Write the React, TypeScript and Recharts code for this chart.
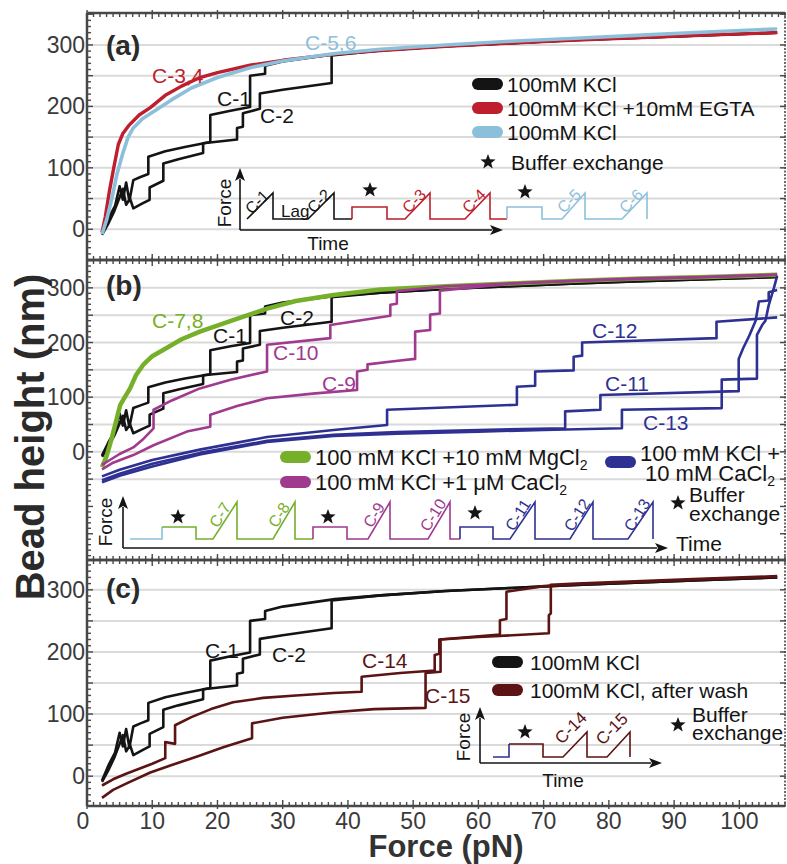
import React from 'react';
import { LineChart, Line, XAxis, YAxis, CartesianGrid } from 'recharts';

type P = [number, number];

// force (pN) vs bead height (nm)
const c1: P[] = [[2.3, -7], [3.4, 20], [4.3, 38], [5, 70], [5.5, 48], [6, 76], [6.5, 46], [7.1, 80], [8.2, 85], [9.4, 90], [9.4, 118], [12, 127], [15, 134], [18.9, 142], [18.9, 186], [22, 193], [25, 199], [25, 250], [27.3, 253], [27.3, 266], [30, 273], [38, 285], [45, 291], [55, 298], [65, 303], [75, 308], [85, 312], [95, 316], [105.8, 320]];
const c2: P[] = [[2.3, -9], [3.2, 8], [4.2, 30], [5, 52], [5.5, 66], [6, 40], [6.6, 50], [7.1, 34], [8.5, 42], [9.6, 48], [9.6, 68], [11.7, 79], [11.7, 107], [14, 114], [17.8, 124], [17.8, 140], [23, 146], [23, 165], [23.9, 167], [23.9, 189], [26.5, 196], [26.5, 221], [30, 227], [37.5, 238], [37.5, 283], [45, 291], [55, 298], [65, 303], [75, 308], [85, 312], [95, 316], [105.8, 320]];
const c34: P[] = [[2.3, -5], [2.8, 20], [3.4, 60], [4.1, 100], [4.8, 138], [5.5, 156], [6.5, 170], [8, 186], [9.7, 198], [12, 218], [14.5, 233], [17.3, 247], [20, 255], [25, 267], [30, 275], [38, 285], [45, 291], [55, 298], [65, 303], [75, 308], [85, 312], [95, 316], [105.8, 320]];
const c56: P[] = [[2.3, -8], [3, 15], [3.8, 50], [4.6, 90], [5.5, 124], [6.3, 150], [7.1, 165], [8.5, 180], [10.7, 195], [13, 211], [16, 230], [20, 247], [25, 263], [30, 274], [38, 286], [45, 293], [55, 300], [65, 306], [75, 311], [85, 316], [95, 321], [105.8, 326]];
const c78: P[] = [[2.3, -28], [3, -8], [3.8, 25], [4.5, 58], [5.1, 86], [5.8, 100], [6.6, 116], [7.5, 140], [8.6, 159], [10, 175], [12.2, 190], [14.5, 206], [17.3, 220], [22.4, 241], [27.6, 262], [32, 276], [37.8, 287], [45, 297], [55, 303], [65, 308], [75, 313], [85, 317], [95, 320], [105.8, 324]];
const c9: P[] = [[2.3, -32], [4, -20], [7.1, -6], [10.2, 12], [15.3, 37], [18.9, 46], [18.9, 68], [23, 84], [27.6, 98], [35, 107], [41.4, 113], [41.4, 147], [43, 150], [43, 160], [48, 167], [50.3, 170], [50.3, 220], [52.6, 223], [52.6, 251], [54.1, 253], [54.1, 295], [65, 308], [75, 313], [85, 317], [95, 320], [105.8, 324]];
const c10: P[] = [[2.3, -24], [3.5, -15], [5, -4], [7.1, 8], [8.5, 22], [10.2, 43], [10.2, 77], [13, 94], [17.3, 116], [22, 132], [27.6, 147], [27.6, 196], [37.3, 208], [37.3, 232], [46.5, 249], [46.5, 269], [47.5, 271], [47.5, 294], [55, 303], [65, 308], [75, 313], [85, 317], [95, 320], [105.8, 324]];
const c11: P[] = [[2.3, -52], [5, -40], [10, -22], [17.3, -2], [27.6, 20], [37.8, 31], [47.5, 36], [60, 40], [73.3, 43], [73.3, 74], [78.7, 77], [78.7, 104], [99.9, 111], [99.9, 170], [100.6, 190], [101.5, 212], [102.5, 240], [103, 275], [104.5, 277], [104.5, 292], [105.8, 296]];
const c12: P[] = [[2.3, -45], [5, -33], [10, -15], [17.3, 4], [27.6, 27], [37.8, 40], [46, 49], [46, 77], [65.9, 86], [65.9, 119], [68.7, 121], [68.7, 147], [74.6, 149], [74.6, 174], [75.9, 176], [75.9, 200], [96.5, 208], [96.5, 238], [105.8, 246]];
const c13: P[] = [[2.3, -56], [5, -44], [10, -27], [17.3, -5], [27.6, 18], [37.8, 29], [47.5, 33], [60, 37], [70, 40], [82, 43], [82, 77], [97.3, 80], [97.3, 132], [102.7, 134], [102.7, 214], [103.5, 232], [104, 240], [104.5, 268], [105.3, 300], [105.8, 322]];
const c14: P[] = [[2.3, -15], [4, -5], [6, 4], [8, 12], [10, 20], [12, 29], [12, 55], [13.5, 52], [13.5, 82], [16, 95], [19, 108], [22.4, 119], [27, 126], [32, 130], [37.8, 134], [42.1, 136], [42.1, 160], [48, 166], [53.3, 170], [53.3, 195], [54, 197], [54, 220], [63.3, 228], [63.3, 251], [64.3, 253], [64.3, 297], [70, 306], [75, 309], [85, 313], [95, 317], [105.8, 321]];
const c15: P[] = [[2.3, -35], [4, -22], [6, -12], [9.7, 6], [13, 18], [17, 32], [21, 47], [25.3, 61], [25.3, 85], [30, 94], [37.8, 103], [44, 108], [51.9, 110], [51.9, 166], [54.2, 168], [54.2, 220], [60, 224], [70.8, 230], [70.8, 259], [71.1, 262], [71.1, 308], [75, 310], [85, 314], [95, 318], [105.8, 322]];

const xLabels = [0, 10, 20, 30, 40, 50, 60, 70, 80, 90, 100];
const yLabels = [0, 100, 200, 300];
const gridVals = [-50, 0, 50, 100, 150, 200, 250, 300];
const xMinor: number[] = [];
for (let v = 0; v <= 107; v++) xMinor.push(v);

const FONT = '"Liberation Sans", Arial, Helvetica, sans-serif';
const K = '#141414';
const RED = '#be1e2d';
const LBLUE = '#8cc0da';
const GREEN = '#76b02a';
const MAG = '#9f3a8e';
const NAVY = '#2e3192';
const WINE = '#5c1313';
const AX = '#484848';
const TXT = '#3a3a3a';

type S = { data: P[]; color: string; w: number };

const XTick = (p: any) => {
  const { x, y, payload, side, labels } = p;
  const v = payload.value as number;
  const major = v % 10 === 0;
  const s = side === 'top' ? 1 : -1;
  return (
    <g>
      <line x1={x} x2={x} y1={y - s * (major ? 3 : 1)} y2={y + s * (major ? 6 : 4)} stroke={AX} strokeWidth={1.4} />
      {labels && xLabels.includes(v) && (
        <text x={v === 0 ? x - 4 : x} y={y + 15} textAnchor="middle" dominantBaseline="central" fontSize={23} fill={TXT} fontFamily={FONT}>{v}</text>
      )}
    </g>
  );
};

const YTick = (p: any) => {
  const { x, y, payload } = p;
  const v = payload.value as number;
  const major = v % 50 === 0;
  return (
    <g>
      <line x1={x - 1} x2={x + (major ? 6 : 4)} y1={y} y2={y} stroke={AX} strokeWidth={1.4} />
      {yLabels.includes(v) && (
        <text x={x - 2} y={y} textAnchor="end" dominantBaseline="central" fontSize={23} fill={TXT} fontFamily={FONT}>{v}</text>
      )}
    </g>
  );
};

const RTick = (p: any) => {
  const { x, y } = p;
  return <line x1={x + 1} x2={x - 5} y1={y} y2={y} stroke={AX} strokeWidth={1.4} />;
};

function Panel({ top, bottom, h, domain, series, labels }: { top: number; bottom: number; h: number; domain: [number, number]; series: S[]; labels?: boolean }) {
  const minor: number[] = [];
  for (let v = Math.ceil(domain[0] / 10) * 10; v <= domain[1]; v += 10) minor.push(v);
  const right = minor.filter((v) => v % 50 === 0);
  const grid = gridVals.filter((v) => v >= domain[0] && v <= domain[1]);
  const axisLine = { stroke: AX, strokeWidth: 2.5 };
  return (
    <div style={{ position: 'absolute', left: 0, top: 0 }}>
      <LineChart width={787} height={h} margin={{ top: top - 1, right: 0, bottom: h - bottom - 1, left: 0 }}>
        <CartesianGrid yAxisId="grid" vertical={false} stroke="#dadada" strokeWidth={2} />
        <XAxis type="number" dataKey="x" domain={[0, 107]} allowDataOverflow ticks={xMinor} interval={0} height={1} tickSize={0} tickMargin={0} axisLine={axisLine} tickLine={false} tick={(p: any) => <XTick {...p} side="bottom" labels={labels} />} />
        <XAxis xAxisId="top" orientation="top" type="number" dataKey="x" domain={[0, 107]} allowDataOverflow ticks={xMinor} interval={0} height={1} tickSize={0} tickMargin={0} axisLine={axisLine} tickLine={false} tick={(p: any) => <XTick {...p} side="top" />} />
        <YAxis type="number" domain={domain} allowDataOverflow ticks={minor} interval={0} width={87} tickSize={0} tickMargin={0} axisLine={axisLine} tickLine={false} tick={(p: any) => <YTick {...p} />} />
        <YAxis yAxisId="right" orientation="right" type="number" domain={domain} allowDataOverflow ticks={right} interval={0} width={2} tickSize={0} tickMargin={0} axisLine={{ stroke: AX, strokeWidth: 1.6, strokeDasharray: '2 1.5' }} tickLine={false} tick={(p: any) => <RTick {...p} />} />
        <YAxis yAxisId="grid" hide type="number" domain={domain} allowDataOverflow ticks={grid} />
        {series.map((s, i) => (
          <Line key={i} data={s.data.map(([x, y]) => ({ x, y }))} dataKey="y" type="linear" stroke={s.color} strokeWidth={s.w} dot={false} activeDot={false} isAnimationActive={false} strokeLinejoin="round" />
        ))}
      </LineChart>
    </div>
  );
}

const Star = ({ cx, cy, r = 8 }: { cx: number; cy: number; r?: number }) => {
  const pts: string[] = [];
  for (let i = 0; i < 10; i++) {
    const rr = i % 2 === 0 ? r : r * 0.42;
    const a = -Math.PI / 2 + (i * Math.PI) / 5;
    pts.push(`${cx + rr * Math.cos(a)},${cy + rr * Math.sin(a)}`);
  }
  return <polygon points={pts.join(' ')} fill={K} />;
};

const Arrow = ({ x1, y1, x2, y2 }: { x1: number; y1: number; x2: number; y2: number }) => {
  const a = Math.atan2(y2 - y1, x2 - x1);
  const L = 13;
  const W = 5;
  const bx = x2 - L * Math.cos(a);
  const by = y2 - L * Math.sin(a);
  const nx = -Math.sin(a) * W;
  const ny = Math.cos(a) * W;
  return (
    <g>
      <line x1={x1} y1={y1} x2={bx + 2 * Math.cos(a)} y2={by + 2 * Math.sin(a)} stroke={K} strokeWidth={1.6} />
      <polygon points={`${x2},${y2} ${bx + nx},${by + ny} ${bx + 3 * Math.cos(a)},${by + 3 * Math.sin(a)} ${bx - nx},${by - ny}`} fill={K} />
    </g>
  );
};

const Poly = ({ pts, color }: { pts: number[][]; color: string }) => (
  <polyline points={pts.map((q) => q.join(',')).join(' ')} fill="none" stroke={color} strokeWidth={1.6} strokeLinejoin="miter" />
);

const RampLabel = ({ x, y, text, color, rot, size = 16 }: { x: number; y: number; text: string; color: string; rot: number; size?: number }) => (
  <text transform={`translate(${x},${y}) rotate(${rot})`} textAnchor="middle" dominantBaseline="central" fontSize={size} fill={color} fontFamily={FONT}>{text}</text>
);

const Pill = ({ x, y, color }: { x: number; y: number; color: string }) => (
  <rect x={x} y={y - 6} width={31} height={12} rx={6} fill={color} />
);

const T = ({ x, y, children, color = K, size = 21, anchor = 'start', weight }: any) => (
  <text x={x} y={y} fontSize={size} fill={color} textAnchor={anchor} dominantBaseline="central" fontFamily={FONT} fontWeight={weight}>{children}</text>
);

function Overlay() {
  return (
    <svg width={787} height={864} style={{ position: 'absolute', left: 0, top: 0 }}>
      {/* panel tags */}
      <T x={106} y={45} size={28} weight="bold" color="#2a2a2a">(a)</T>
      <T x={106} y={285} size={28} weight="bold" color="#2a2a2a">(b)</T>
      <T x={106} y={588} size={28} weight="bold" color="#2a2a2a">(c)</T>

      {/* curve labels (a) */}
      <T x={152} y={75} color={RED}>C-3,4</T>
      <T x={305} y={42} color={LBLUE}>C-5,6</T>
      <T x={217} y={98}>C-1</T>
      <T x={260} y={115}>C-2</T>
      {/* (b) */}
      <T x={152} y={320} color={GREEN}>C-7,8</T>
      <T x={213} y={335}>C-1</T>
      <T x={280} y={317}>C-2</T>
      <T x={273} y={352} color={MAG}>C-10</T>
      <T x={322} y={383} color={MAG}>C-9</T>
      <T x={592} y={330} color={NAVY}>C-12</T>
      <T x={605} y={383} color={NAVY}>C-11</T>
      <T x={643} y={422} color={NAVY}>C-13</T>
      {/* (c) */}
      <T x={205} y={650}>C-1</T>
      <T x={272} y={654}>C-2</T>
      <T x={362} y={660} color={WINE}>C-14</T>
      <T x={425} y={695} color={WINE}>C-15</T>

      {/* legend (a) */}
      <Pill x={472} y={84} color={K} />
      <T x={507} y={84}>100mM KCl</T>
      <Pill x={472} y={108} color={RED} />
      <T x={507} y={108}>100mM KCl +10mM EGTA</T>
      <Pill x={472} y={132} color={LBLUE} />
      <T x={507} y={132}>100mM KCl</T>
      <Star cx={488} cy={162} />
      <T x={511} y={162}>Buffer exchange</T>

      {/* inset (a) */}
      <Arrow x1={240} y1={230} x2={240} y2={168} />
      <Arrow x1={240} y1={230} x2={503} y2={230} />
      <text transform="translate(224,203) rotate(-90)" textAnchor="middle" dominantBaseline="central" fontSize={19} fill={K} fontFamily={FONT}>Force</text>
      <T x={328} y={243} size={19} anchor="middle">Time</T>
      <Poly color={K} pts={[[247, 219], [273, 193], [273, 219], [308, 219], [334, 193], [334, 219], [352, 219]]} />
      <Poly color={RED} pts={[[352, 219], [352, 207], [387, 207], [387, 219], [405, 219], [430, 193], [430, 219], [465, 219], [490, 193], [490, 219], [507, 219]]} />
      <Poly color={LBLUE} pts={[[507, 219], [507, 207], [542, 207], [542, 219], [562, 219], [585, 193], [585, 219], [622, 219], [647, 193], [647, 219]]} />
      <RampLabel x={257} y={202} text="C-1" color={K} rot={-45} />
      <RampLabel x={319} y={201} text="C-2" color={K} rot={-45} />
      <RampLabel x={414} y={201} text="C-3" color={RED} rot={-45} />
      <RampLabel x={474} y={201} text="C-4" color={RED} rot={-45} />
      <RampLabel x={569} y={201} text="C-5" color={LBLUE} rot={-45} />
      <RampLabel x={631} y={201} text="C-6" color={LBLUE} rot={-45} />
      <T x={281} y={211} size={17}>Lag</T>
      <Star cx={370} cy={190} />
      <Star cx={525} cy={192} />

      {/* legend (b) */}
      <rect x={280} y={451} width={31} height={12} rx={6} fill={GREEN} />
      <text x={315} y={457} fontSize={22} fill={K} dominantBaseline="central" fontFamily={FONT}>100 mM KCl +10 mM MgCl<tspan dy={8} fontSize={14}>2</tspan></text>
      <rect x={280} y={476} width={31} height={12} rx={6} fill={MAG} />
      <text x={315} y={482} fontSize={22} fill={K} dominantBaseline="central" fontFamily={FONT}>100 mM KCl +1 μM CaCl<tspan dy={8} fontSize={14}>2</tspan></text>
      <rect x={605} y={456} width={31} height={12} rx={6} fill={NAVY} />
      <T x={640} y={453} size={22}>100 mM KCl +</T>
      <text x={645} y={473} fontSize={22} fill={K} dominantBaseline="central" fontFamily={FONT}>10 mM CaCl<tspan dy={8} fontSize={14}>2</tspan></text>
      <Star cx={678} cy={503} />
      <T x={689} y={494} size={21}>Buffer</T>
      <T x={689} y={513} size={21}>exchange</T>

      {/* inset (b) */}
      <Arrow x1={123} y1={548} x2={123} y2={496} />
      <Arrow x1={123} y1={548} x2={668} y2={548} />
      <text transform="translate(105,522) rotate(-90)" textAnchor="middle" dominantBaseline="central" fontSize={19} fill={K} fontFamily={FONT}>Force</text>
      <T x={676} y={543} size={21}>Time</T>
      <Poly color={LBLUE} pts={[[130, 539], [162, 539], [162, 527]]} />
      <Poly color={GREEN} pts={[[162, 527], [196, 527], [196, 539], [213, 539], [237, 502], [237, 539], [273, 539], [295, 502], [295, 539], [313, 539]]} />
      <Poly color={MAG} pts={[[313, 539], [313, 527], [347, 527], [347, 539], [368, 539], [390, 502], [390, 539], [428, 539], [450, 502], [450, 539], [460, 539]]} />
      <Poly color={NAVY} pts={[[460, 539], [460, 527], [493, 527], [493, 539], [510, 539], [535, 502], [535, 539], [570, 539], [593, 502], [593, 539], [628, 539], [653, 502], [653, 539]]} />
      <RampLabel x={220} y={515} text="C-7" color={GREEN} rot={-58} />
      <RampLabel x={279} y={515} text="C-8" color={GREEN} rot={-58} />
      <RampLabel x={374} y={515} text="C-9" color={MAG} rot={-58} />
      <RampLabel x={433} y={515} text="C-10" color={MAG} rot={-58} />
      <RampLabel x={518} y={515} text="C-11" color={NAVY} rot={-58} />
      <RampLabel x={577} y={515} text="C-12" color={NAVY} rot={-58} />
      <RampLabel x={637} y={515} text="C-13" color={NAVY} rot={-58} />
      <Star cx={178} cy={517} />
      <Star cx={328} cy={517} />
      <Star cx={475} cy={513} />

      {/* legend (c) */}
      <Pill x={492} y={662} color={K} />
      <T x={530} y={662}>100mM KCl</T>
      <Pill x={492} y={690} color={WINE} />
      <T x={530} y={690}>100mM KCl, after wash</T>
      <Star cx={678} cy={725} />
      <T x={692} y={714}>Buffer</T>
      <T x={692} y={732}>exchange</T>

      {/* inset (c) */}
      <Arrow x1={480} y1={763} x2={480} y2={707} />
      <Arrow x1={480} y1={763} x2={662} y2={763} />
      <text transform="translate(463,737) rotate(-90)" textAnchor="middle" dominantBaseline="central" fontSize={19} fill={K} fontFamily={FONT}>Force</text>
      <T x={563} y={780} size={19} anchor="middle">Time</T>
      <Poly color={NAVY} pts={[[493, 757], [509, 757], [509, 744]]} />
      <Poly color={WINE} pts={[[509, 744], [543, 744], [543, 757], [563, 757], [587, 732], [587, 757], [607, 757], [630, 732], [630, 757]]} />
      <RampLabel x={571} y={728} text="C-14" color={WINE} rot={-45} size={17} />
      <RampLabel x={612} y={729} text="C-15" color={WINE} rot={-45} size={17} />
      <Star cx={525} cy={732} />

      {/* axis titles */}
      <text transform="translate(30,437) rotate(-90)" textAnchor="middle" dominantBaseline="central" fontSize={40} fontWeight="bold" fill="#2a2a2a" fontFamily={FONT}>Bead height (nm)</text>
      <T x={446} y={846} size={31} weight="bold" anchor="middle" color="#333">Force (pN)</T>
    </svg>
  );
}

export default function App() {
  const a: S[] = [
    { data: c1, color: K, w: 2.6 },
    { data: c2, color: K, w: 2.6 },
    { data: c34, color: RED, w: 3.4 },
    { data: c56, color: LBLUE, w: 3.6 },
  ];
  const b: S[] = [
    { data: c1, color: K, w: 2.6 },
    { data: c2, color: K, w: 2.6 },
    { data: c78, color: GREEN, w: 4.5 },
    { data: c9, color: MAG, w: 2.6 },
    { data: c10, color: MAG, w: 2.6 },
    { data: c11, color: NAVY, w: 2.6 },
    { data: c12, color: NAVY, w: 2.6 },
    { data: c13, color: NAVY, w: 2.6 },
  ];
  const c: S[] = [
    { data: c1, color: K, w: 2.6 },
    { data: c2, color: K, w: 2.6 },
    { data: c14, color: WINE, w: 2.6 },
    { data: c15, color: WINE, w: 2.6 },
  ];
  return (
    <div style={{ position: 'absolute', left: 0, top: 0, width: 787, height: 864, background: '#fff', fontFamily: FONT }}>
      <Panel top={13} bottom={260} h={262} domain={[-50, 352]} series={a} />
      <Panel top={260} bottom={560} h={562} domain={[-198, 351]} series={b} />
      <Panel top={560} bottom={806} h={864} domain={[-48, 348]} series={c} labels />
      <Overlay />
    </div>
  );
}
